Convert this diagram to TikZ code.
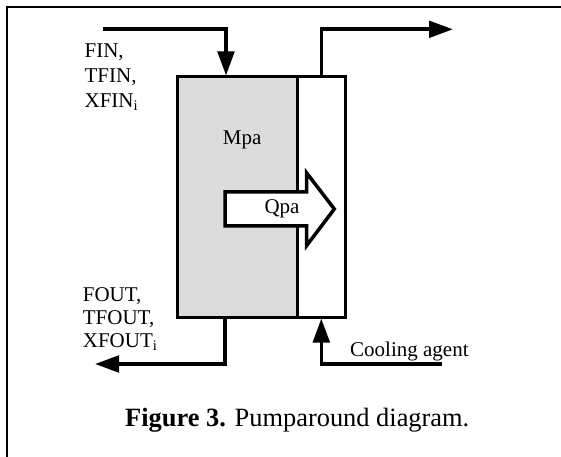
\documentclass[tikz,border=0pt]{standalone}
\usepackage{fontspec}
\setmainfont{Liberation Serif}
\usetikzlibrary{arrows.meta}
\definecolor{boxgray}{HTML}{DCDCDC}
\tikzset{
  lbl/.style={anchor=base west, inner sep=0pt, font=\fontsize{21bp}{25bp}\selectfont},
  captext/.style={anchor=base west, inner sep=0pt, font=\fontsize{26.4bp}{30bp}\selectfont},
  pipe/.style={line width=3.6bp, -{Triangle[length=24bp,width=16.5bp]}},
  tank/.style={draw, line width=3bp, minimum height=240bp, inner sep=0pt},
  heat/.style={draw, line width=3.5bp, fill=white, line join=miter},
  framestyle/.style={line width=2bp}
}
\begin{document}
\begin{tikzpicture}[x=1bp,y=-1bp]
\useasboundingbox (0,0) rectangle (561,457);
% frame (only top and left edges visible)
\coordinate (fr0) at (6.7,457);
\coordinate (fr1) at (6.7,6.7);
\coordinate (fr2) at (561,6.7);
\draw[framestyle] (fr0) -- (fr1) -- (fr2);
% vessels
\node[tank, fill=boxgray, minimum width=120bp] (mpabox) at (237.3,197) {};
\node[tank, fill=white, minimum width=48bp] (coolbox) at (321.3,197) {};
% inlet
\coordinate (in0) at (103.3,29);
\coordinate (in1) at (226,29);
\draw[pipe] (in0) -- (in1) -- (in1 |- mpabox.north);
% top outlet of cooling agent
\coordinate (out1) at (453,29.3);
\draw[pipe] (coolbox.north) |- (out1);
% bottom outlet
\coordinate (bo0) at (225,364);
\coordinate (bo1) at (95,364);
\draw[pipe] (bo0 |- mpabox.south) -- (bo0) -- (bo1);
% cooling agent inlet
\coordinate (ci0) at (441.7,364);
\draw[pipe] (ci0) -| (coolbox.south);
% heat flow arrow
\coordinate (q0) at (225,209);
\draw[heat] (q0) ++(0,-17) -- ++(81.7,0) -- ++(0,-19) -- (334.3,209) -- (306.7,245.5) -- ++(0,-19.5) -- (225,226) -- cycle;
% labels
\node[lbl] (fin) at (84.4,57.3) {FIN,};
\node[lbl] (tfin) at (84.4,82.3) {TFIN,};
\node[lbl] (xfin) at (84.4,107.3) {XFIN\textsubscript{i}};
\node[lbl] (fout) at (82.7,301.5) {FOUT,};
\node[lbl] (tfout) at (82.7,324.5) {TFOUT,};
\node[lbl] (xfout) at (82.7,347.5) {XFOUT\textsubscript{i}};
\node[lbl] (mpa) at (222.7,145) {Mpa};
\node[lbl] (qpa) at (264.3,213.3) {Qpa};
\node[lbl] (cool) at (350,356.7) {Cooling agent};
\node[captext] (caption) at (125,426) {\textbf{Figure 3.} Pumparound diagram.};
\end{tikzpicture}
\end{document}
